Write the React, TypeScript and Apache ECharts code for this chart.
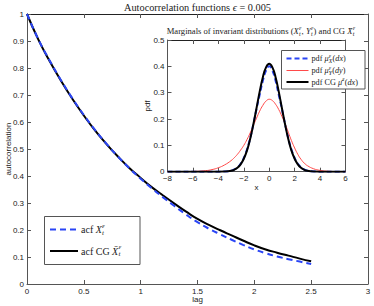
import React, { useEffect, useRef } from 'react';
import * as echarts from 'echarts';

// ---- main panel: autocorrelation functions ----
const LAGS = [0, 0.1, 0.2, 0.3, 0.4, 0.5, 0.6, 0.7, 0.8, 0.9, 1.0, 1.1, 1.2, 1.3, 1.4, 1.5, 1.6, 1.7, 1.8, 1.9, 2.0, 2.1, 2.2, 2.3, 2.4, 2.5];
const ACF_X = [1.0, 0.906, 0.827, 0.754, 0.687, 0.626, 0.57, 0.519, 0.472, 0.429, 0.39, 0.354, 0.32, 0.288, 0.257, 0.229, 0.205, 0.184, 0.164, 0.145, 0.128, 0.114, 0.102, 0.092, 0.083, 0.074];
const ACF_CG = [1.0, 0.905, 0.825, 0.752, 0.685, 0.624, 0.568, 0.518, 0.472, 0.43, 0.393, 0.358, 0.327, 0.297, 0.268, 0.241, 0.219, 0.199, 0.18, 0.161, 0.143, 0.128, 0.116, 0.105, 0.094, 0.084];

// ---- inset: marginal densities ----
const XS = [-8, -7, -6, -5, -4.5, -4, -3.5, -3, -2.75, -2.5, -2.25, -2, -1.75, -1.5, -1.25, -1, -0.75, -0.5, -0.25, 0, 0.25, 0.5, 0.75, 1, 1.25, 1.5, 1.75, 2, 2.25, 2.5, 2.75, 3, 3.5, 4, 4.5, 5, 6];
const PDF_X = [0, 0, 0, 0, 0, 0.0001, 0.0008, 0.004, 0.0085, 0.0165, 0.03, 0.052, 0.084, 0.127, 0.18, 0.238, 0.292, 0.345, 0.384, 0.4, 0.384, 0.345, 0.292, 0.238, 0.18, 0.127, 0.084, 0.052, 0.03, 0.0165, 0.0085, 0.004, 0.0008, 0.0001, 0, 0, 0];
const PDF_Y = [0, 0.0003, 0.001, 0.004, 0.008, 0.015, 0.026, 0.042, 0.053, 0.066, 0.082, 0.1, 0.122, 0.147, 0.175, 0.203, 0.23, 0.252, 0.268, 0.275, 0.27, 0.256, 0.236, 0.21, 0.182, 0.15, 0.118, 0.09, 0.066, 0.047, 0.033, 0.023, 0.011, 0.005, 0.002, 0.0008, 0.0001];
const PDF_CG = [0, 0, 0, 0, 0, 0, 0.0006, 0.0034, 0.0074, 0.0148, 0.028, 0.049, 0.08, 0.124, 0.179, 0.241, 0.304, 0.359, 0.396, 0.41, 0.396, 0.359, 0.304, 0.241, 0.179, 0.124, 0.08, 0.049, 0.028, 0.0148, 0.0074, 0.0034, 0.0006, 0, 0, 0, 0];

const SERIF = '"Liberation Serif", "Times New Roman", serif';
const SANS = '"Liberation Sans", Arial, sans-serif';
const AX = '#555';
const TXT = '#222';
const BLUE = '#2a45f5';
const RED = '#ff4a4a';

type Seg = { t?: string; it?: boolean; sup?: string; sub?: string };

let ctx: CanvasRenderingContext2D | null = null;
function measure(text: string, size: number, italic = false) {
  if (!ctx) ctx = document.createElement('canvas').getContext('2d');
  if (!ctx) return text.length * size * 0.5;
  ctx.font = `${italic ? 'italic ' : ''}${size}px ${SERIF}`;
  return ctx.measureText(text).width;
}

function mkText(text: string, px: number, py: number, fs: number, family: string, it = false, rotation = 0, align = 'left') {
  return {
    type: 'text',
    x: px,
    y: py,
    rotation,
    silent: true,
    z: 100,
    style: {
      text,
      fontSize: fs,
      fontFamily: family,
      fontStyle: it ? 'italic' : 'normal',
      fill: TXT,
      align,
      verticalAlign: 'middle',
      textAlign: align,
      textVerticalAlign: 'middle',
    },
  };
}

function mathText(segs: Seg[], x: number, y: number, size: number, align: 'left' | 'center' = 'left') {
  const s = size * 0.7;
  const widths = segs.map((g) =>
    g.t !== undefined ? measure(g.t, size, g.it) : Math.max(g.sup ? measure(g.sup, s, true) : 0, g.sub ? measure(g.sub, s, true) : 0) + 0.5
  );
  const total = widths.reduce((a, b) => a + b, 0);
  let cx = align === 'center' ? x - total / 2 : x;
  const els: any[] = [];
  segs.forEach((g, i) => {
    if (g.t !== undefined) els.push(mkText(g.t, cx, y, size, SERIF, !!g.it));
    else {
      if (g.sup) els.push(mkText(g.sup, cx + 0.3, y - size * 0.36, s, SERIF, true));
      if (g.sub) els.push(mkText(g.sub, cx + 0.3, y + size * 0.3, s, SERIF, true));
    }
    cx += widths[i];
  });
  return els;
}

export default function App() {
  const ref = useRef<HTMLDivElement>(null);
  useEffect(() => {
    const chart = echarts.init(ref.current!, null, { renderer: 'svg' });
    const line = { color: AX, width: 1 };
    const tick = { inside: true, length: 4, lineStyle: line };
    const lbl = { fontSize: 8, color: TXT, fontFamily: SANS };
    const minus = (v: number) => (v < 0 ? '\u2212' + -v : String(v));

    const graphics: any[] = [];
    // axis names for the y axes (rotated)
    graphics.push(mkText('autocorrelation', 8, 149, 8, SANS, false, Math.PI / 2, 'center'));
    graphics.push(mkText('pdf', 147, 106, 8, SANS, false, Math.PI / 2, 'center'));
    // main title
    graphics.push(...mathText([{ t: 'Autocorrelation functions ' }, { t: '\u03F5', it: true }, { t: ' = 0.005' }], 197.5, 7, 10.3, 'center'));
    // inset title
    graphics.push(
      ...mathText(
        [
          { t: 'Marginals of invariant distributions (' },
          { t: 'X', it: true },
          { sup: '\u03B5', sub: 't' },
          { t: ', ' },
          { t: 'Y', it: true },
          { sup: '\u03B5', sub: 't' },
          { t: ') and CG ' },
          { t: 'X\u0304', it: true },
          { sup: '\u03B5', sub: 't' },
        ],
        261,
        31,
        8.6,
        'center'
      )
    );
    // main legend
    graphics.push({
      type: 'rect',
      silent: true,
      z: 90,
      shape: { x: 44.5, y: 216.5, width: 95.5, height: 48 },
      style: { fill: '#fff', stroke: AX, lineWidth: 1 },
    });
    graphics.push({ type: 'line', z: 95, silent: true, shape: { x1: 50, y1: 229.5, x2: 78, y2: 229.5 }, style: { stroke: BLUE, lineWidth: 2, lineDash: [6, 4] } });
    graphics.push({ type: 'line', z: 95, silent: true, shape: { x1: 50, y1: 251, x2: 78, y2: 251 }, style: { stroke: '#000', lineWidth: 2 } });
    graphics.push(...mathText([{ t: 'acf ' }, { t: 'X', it: true }, { sup: '\u03B5', sub: 't' }], 81, 229.5, 10));
    graphics.push(...mathText([{ t: 'acf CG ' }, { t: 'X\u0304', it: true }, { sup: '\u03B5', sub: 't' }], 81, 251, 10));
    // inset legend
    graphics.push({
      type: 'rect',
      silent: true,
      z: 90,
      shape: { x: 281.5, y: 50.5, width: 83.5, height: 38.5 },
      style: { fill: '#fff', stroke: AX, lineWidth: 1 },
    });
    graphics.push({ type: 'line', z: 95, silent: true, shape: { x1: 286.5, y1: 58.5, x2: 308.5, y2: 58.5 }, style: { stroke: BLUE, lineWidth: 2, lineDash: [5, 3] } });
    graphics.push({ type: 'line', z: 95, silent: true, shape: { x1: 286.5, y1: 70.5, x2: 308.5, y2: 70.5 }, style: { stroke: RED, lineWidth: 1 } });
    graphics.push({ type: 'line', z: 95, silent: true, shape: { x1: 286.5, y1: 82, x2: 308.5, y2: 82 }, style: { stroke: '#000', lineWidth: 2 } });
    graphics.push(...mathText([{ t: 'pdf ' }, { t: '\u03BC', it: true }, { sup: '\u03B5', sub: 'X' }, { t: '(' }, { t: 'dx', it: true }, { t: ')' }], 311.5, 58.5, 8.2));
    graphics.push(...mathText([{ t: 'pdf ' }, { t: '\u03BC', it: true }, { sup: '\u03B5', sub: 'Y' }, { t: '(' }, { t: 'dy', it: true }, { t: ')' }], 311.5, 70.5, 8.2));
    graphics.push(...mathText([{ t: 'pdf CG ' }, { t: '\u03BC\u0304', it: true }, { sup: '\u03B5' }, { t: '(' }, { t: 'dx', it: true }, { t: ')' }], 311.5, 82, 8.2));

    const option: any = {
      animation: false,
      backgroundColor: '#fff',
      grid: [
        { left: 27, top: 14, width: 341, height: 270, show: false, containLabel: false, outerBoundsMode: 'none' },
        { left: 167.5, top: 40, width: 178, height: 131.7, show: true, backgroundColor: '#fff', borderWidth: 0, containLabel: false, outerBoundsMode: 'none' },
      ],
      xAxis: [
        {
          gridIndex: 0, type: 'value', min: 0, max: 3, interval: 0.5, position: 'bottom',
          axisLine: { show: true, onZero: false, lineStyle: line }, axisTick: tick,
          axisLabel: { ...lbl, show: true, margin: 3 }, splitLine: { show: false },
          name: 'lag', nameLocation: 'middle', nameGap: 11, nameTextStyle: lbl, nameMoveOverlap: false,
        },
        {
          gridIndex: 0, type: 'value', min: 0, max: 3, interval: 0.5, position: 'top',
          axisLine: { show: true, onZero: false, lineStyle: { color: '#222', width: 1 } }, axisTick: tick,
          axisLabel: { show: false }, splitLine: { show: false },
        },
        {
          gridIndex: 1, type: 'value', min: -8, max: 6, interval: 2, position: 'bottom',
          axisLine: { show: true, onZero: false, lineStyle: line }, axisTick: tick,
          axisLabel: { ...lbl, show: true, margin: 3, formatter: minus }, splitLine: { show: false },
          name: 'x', nameLocation: 'middle', nameGap: 12, nameTextStyle: lbl, nameMoveOverlap: false,
        },
        {
          gridIndex: 1, type: 'value', min: -8, max: 6, interval: 2, position: 'top',
          axisLine: { show: true, onZero: false, lineStyle: { color: '#222', width: 1 } }, axisTick: tick,
          axisLabel: { show: false }, splitLine: { show: false },
        },
      ],
      yAxis: [
        {
          gridIndex: 0, type: 'value', min: 0, max: 1, interval: 0.1, position: 'left',
          axisLine: { show: true, onZero: false, lineStyle: line }, axisTick: tick,
          axisLabel: { ...lbl, show: true, margin: 3 }, splitLine: { show: false },
        },
        {
          gridIndex: 0, type: 'value', min: 0, max: 1, interval: 0.1, position: 'right',
          axisLine: { show: true, onZero: false, lineStyle: line }, axisTick: tick,
          axisLabel: { show: false }, splitLine: { show: false },
        },
        {
          gridIndex: 1, type: 'value', min: 0, max: 0.5, interval: 0.1, position: 'left',
          axisLine: { show: true, onZero: false, lineStyle: line }, axisTick: tick,
          axisLabel: { ...lbl, show: true, margin: 3 }, splitLine: { show: false },
        },
        {
          gridIndex: 1, type: 'value', min: 0, max: 0.5, interval: 0.1, position: 'right',
          axisLine: { show: true, onZero: false, lineStyle: line }, axisTick: tick,
          axisLabel: { show: false }, splitLine: { show: false },
        },
      ],
      series: [
        {
          type: 'line', xAxisIndex: 0, yAxisIndex: 0, showSymbol: false, smooth: true, z: 2,
          data: LAGS.map((t, i) => [t, ACF_CG[i]]),
          lineStyle: { color: '#000', width: 2 },
        },
        {
          type: 'line', xAxisIndex: 0, yAxisIndex: 0, showSymbol: false, smooth: true, z: 3,
          data: LAGS.map((t, i) => [t, ACF_X[i]]),
          lineStyle: { color: BLUE, width: 2, type: [6, 4] },
        },
        {
          type: 'line', xAxisIndex: 2, yAxisIndex: 2, showSymbol: false, smooth: true, z: 4,
          data: XS.map((x, i) => [x, PDF_X[i]]),
          lineStyle: { color: BLUE, width: 2, type: [5, 3] },
        },
        {
          type: 'line', xAxisIndex: 2, yAxisIndex: 2, showSymbol: false, smooth: true, z: 4,
          data: XS.map((x, i) => [x, PDF_Y[i]]),
          lineStyle: { color: RED, width: 1 },
        },
        {
          type: 'line', xAxisIndex: 2, yAxisIndex: 2, showSymbol: false, smooth: true, z: 5,
          data: XS.map((x, i) => [x, PDF_CG[i]]),
          lineStyle: { color: '#000', width: 2 },
        },
      ],
      graphic: graphics,
    };
    chart.setOption(option);
    return () => chart.dispose();
  }, []);
  return <div ref={ref} style={{ position: 'absolute', left: 0, top: 0, width: 374, height: 306 }} />;
}
